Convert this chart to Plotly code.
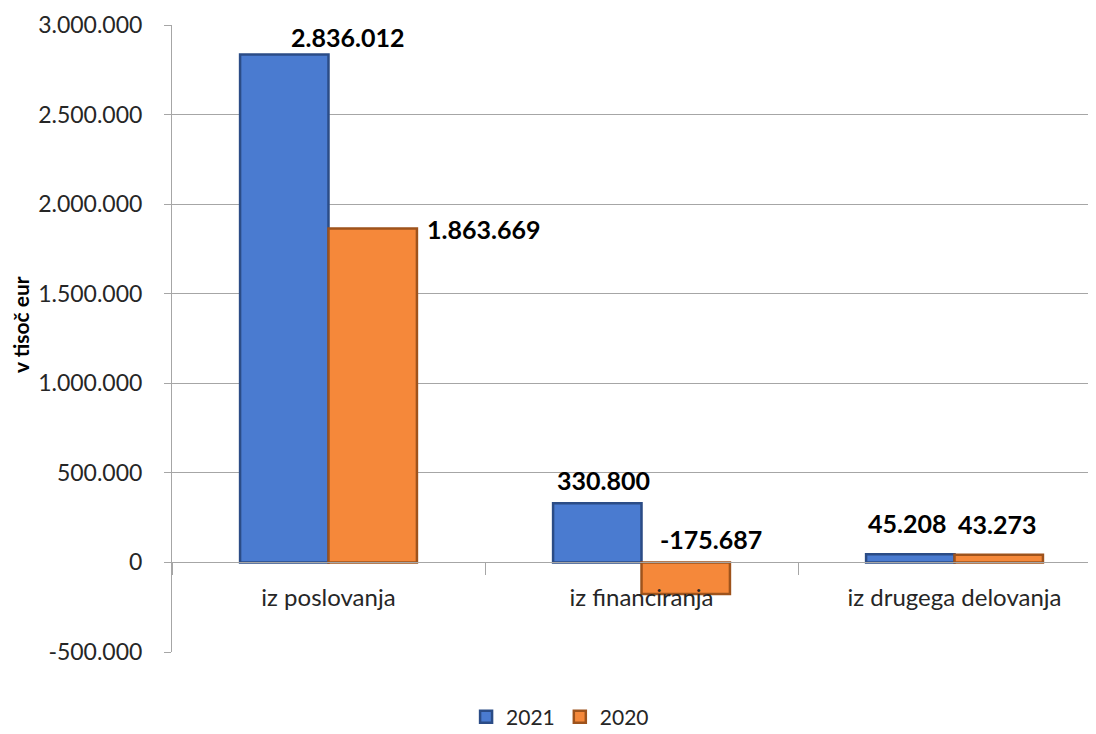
import plotly.graph_objects as go

categories = ["iz poslovanja", "iz financiranja", "iz drugega delovanja"]
series_2021 = [2836012, 330800, 45208]
series_2020 = [1863669, -175687, 43273]
labels_2021 = ["2.836.012", "330.800", "45.208"]
labels_2020 = ["1.863.669", "-175.687", "43.273"]
y_ticks = [-500000, 0, 500000, 1000000, 1500000, 2000000, 2500000, 3000000]
y_ticktext = ["-500.000", "0", "500.000", "1.000.000", "1.500.000", "2.000.000", "2.500.000", "3.000.000"]

# label placement styles (pixel offsets from category centre)
off_2021 = [(19, 0), (-38, 6), (-48, 14)]
off_2020 = [(96, 0), (69, 6), (42, 14)]

FONT = "Lato, 'Open Sans', sans-serif"
BLUE = "#4A7BD0"
ORANGE = "#F5883A"
LBL = dict(family=FONT, size=25, color="#000000", weight="bold")

W, H = 1088, 726
L, T, B = 164, 17, 82
PW, PH = W - L, H - T - B

fig = go.Figure()
fig.add_trace(go.Bar(
    name="2021", x=categories, y=series_2021,
    marker=dict(color=BLUE, line=dict(color="#2B4C86", width=2.5)),
))
fig.add_trace(go.Bar(
    name="2020", x=categories, y=series_2020,
    marker=dict(color=ORANGE, line=dict(color="#9E531C", width=2.5)),
))

annotations = []
for i, cat in enumerate(categories):
    dx, dy = off_2021[i]
    annotations.append(dict(
        x=cat, y=max(series_2021[i], 0), xref="x", yref="y",
        text=labels_2021[i], showarrow=False, xshift=dx, yshift=dy,
        yanchor="bottom", xanchor="center", font=LBL,
    ))
    dx, dy = off_2020[i]
    v = series_2020[i]
    if i == 0:
        annotations.append(dict(
            x=cat, y=v, xref="x", yref="y",
            text=labels_2020[i], showarrow=False, xshift=dx, yshift=dy,
            yanchor="middle", xanchor="left", font=LBL,
        ))
    else:
        annotations.append(dict(
            x=cat, y=max(v, 0), xref="x", yref="y",
            text=labels_2020[i], showarrow=False, xshift=dx, yshift=dy,
            yanchor="bottom", xanchor="center", font=LBL,
        ))

# y-axis title
annotations.append(dict(
    x=-(L - 12) / PW, y=(PH + T - 317) / PH, xref="paper", yref="paper",
    text="v tisoč eur", textangle=-90, showarrow=False,
    xanchor="center", yanchor="middle",
    font=dict(family=FONT, size=21, color="#000000", weight="bold"),
))

fig.update_layout(
    width=W, height=H,
    margin=dict(l=L, r=0, t=T, b=B, autoexpand=False),
    paper_bgcolor="white", plot_bgcolor="white",
    barmode="group", bargap=0.435, bargroupgap=0,
    font=dict(family=FONT, size=22, color="#262626"),
    annotations=annotations,
    showlegend=True,
    legend=dict(orientation="h", x=0.42, xanchor="center", y=-0.104, yanchor="middle",
                font=dict(family=FONT, size=21, color="#262626"), itemwidth=30),
    yaxis=dict(
        range=[-500000, 3000000], tickvals=y_ticks, ticktext=y_ticktext,
        automargin=False,
        showgrid=True, gridcolor="#A6A6A6", gridwidth=1,
        zeroline=False, showline=True, linecolor="#A6A6A6", linewidth=1,
        ticks="outside", ticklen=7, tickcolor="#A6A6A6",
        ticklabelstandoff=17,
        tickfont=dict(family=FONT, size=23, color="#262626"),
    ),
    xaxis=dict(
        type="category", range=[-0.5, 2.452],
        automargin=False,
        anchor="free", position=1/7,
        showline=True, linecolor="#A6A6A6", linewidth=1,
        tickson="boundaries", ticks="outside", ticklen=12, tickcolor="#A6A6A6",
        ticklabelstandoff=14,
        showgrid=False,
        tickfont=dict(family=FONT, size=24, color="#262626"),
    ),
)

fig.write_html("out.html")
